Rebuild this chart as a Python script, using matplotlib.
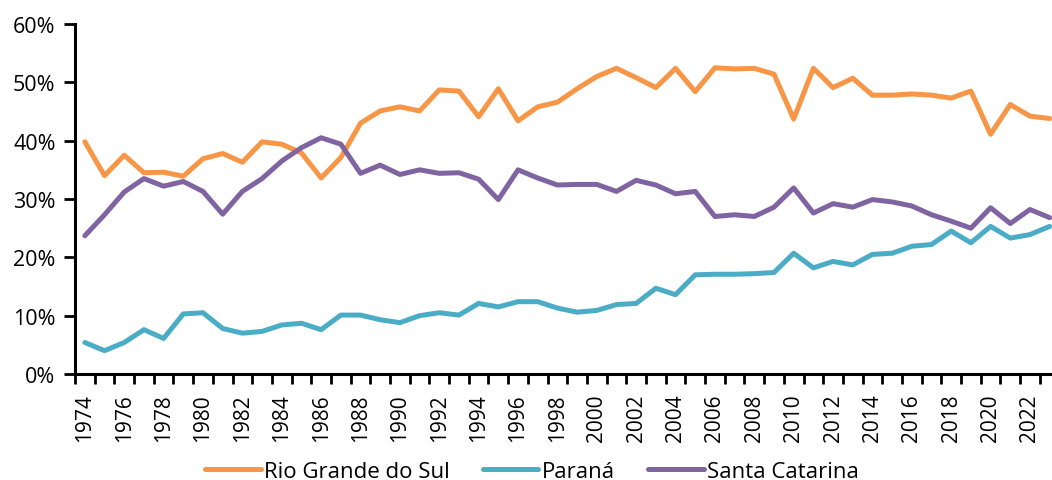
import matplotlib
matplotlib.use('Agg')
import matplotlib.pyplot as plt
import matplotlib.ticker as ticker

plt.rcParams['font.family'] = ['Open Sans', 'DejaVu Sans']

years = list(range(1974, 2024))

# shares (%)
rio_grande_do_sul = [39.8, 34.0, 37.5, 34.5, 34.6, 33.9, 36.9, 37.8, 36.3, 39.8,
                     39.4, 37.9, 33.6, 37.1, 43.0, 45.1, 45.8, 45.1, 48.7, 48.5,
                     44.1, 48.9, 43.4, 45.8, 46.6, 48.9, 51.0, 52.4, 50.8, 49.1,
                     52.4, 48.4, 52.5, 52.3, 52.4, 51.4, 43.7, 52.4, 49.1, 50.7,
                     47.8, 47.8, 48.0, 47.8, 47.3, 48.5, 41.1, 46.2, 44.2, 43.8]
parana = [5.4, 4.0, 5.4, 7.6, 6.1, 10.3, 10.5, 7.8, 7.0, 7.3,
          8.4, 8.7, 7.6, 10.1, 10.1, 9.3, 8.8, 10.0, 10.5, 10.1,
          12.1, 11.5, 12.4, 12.4, 11.3, 10.6, 10.9, 11.9, 12.1, 14.7,
          13.6, 17.0, 17.1, 17.1, 17.2, 17.4, 20.7, 18.2, 19.3, 18.7,
          20.5, 20.7, 21.9, 22.2, 24.5, 22.5, 25.3, 23.3, 23.9, 25.3]
santa_catarina = [23.7, 27.3, 31.2, 33.5, 32.2, 33.0, 31.3, 27.4, 31.3, 33.5,
                  36.5, 38.8, 40.5, 39.4, 34.4, 35.8, 34.2, 35.0, 34.4, 34.5,
                  33.4, 29.9, 35.0, 33.6, 32.4, 32.5, 32.5, 31.3, 33.2, 32.4,
                  30.9, 31.3, 27.0, 27.3, 27.0, 28.6, 31.9, 27.6, 29.2, 28.6,
                  29.9, 29.5, 28.8, 27.3, 26.2, 25.0, 28.5, 25.8, 28.2, 26.8]

series = [('Rio Grande do Sul', rio_grande_do_sul, '#F79646'),
          ('Paraná', parana, '#4BACC6'),
          ('Santa Catarina', santa_catarina, '#8064A2')]

W, H = 1052, 481
fig = plt.figure(figsize=(W/100, H/100), dpi=100)
# axes runs a little past the right edge, as in the reference
ax = fig.add_axes([75/W, 106/H, 984.5/W, 350/H])

x = list(range(len(years)))
for name, vals, col in series:
    ax.plot(x, [v/100 for v in vals], color=col, lw=3.6, label=name,
            solid_joinstyle='round', solid_capstyle='round')

ax.set_xlim(-0.5, len(years)-0.5)
ax.set_ylim(0, 0.6)
ax.yaxis.set_major_locator(ticker.MultipleLocator(0.1))
ax.yaxis.set_major_formatter(ticker.FuncFormatter(lambda v, p: '%d%%' % round(v*100)))

# ticks on category borders, labels every other year
ax.set_xticks([i-0.5 for i in range(len(years)+1)])
ax.set_xticklabels([])
ax.set_xticks(x[::2], minor=True)
ax.set_xticklabels([str(y) for y in years[::2]], minor=True, rotation=90)
ax.tick_params(axis='x', which='major', length=7, width=2, direction='out')
ax.tick_params(axis='x', which='minor', length=0, pad=14, labelsize=15)
ax.tick_params(axis='y', length=8, width=2, direction='out', labelsize=15.5, pad=6)

for s in ['top', 'right']:
    ax.spines[s].set_visible(False)
for s in ['left', 'bottom']:
    ax.spines[s].set_linewidth(2.2)

fig.legend(loc='lower center', bbox_to_anchor=(532/W, -0.045), ncol=3, frameon=False,
           fontsize=16, handlelength=2.5, columnspacing=1.5, handletextpad=0.15)

fig.savefig('out.png', dpi=100)
